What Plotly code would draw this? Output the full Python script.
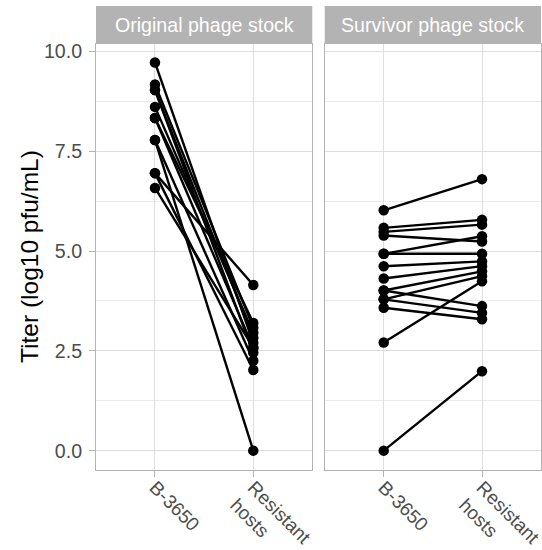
import plotly.graph_objects as go
from plotly.subplots import make_subplots

categories = ["B-3650", "Resistant hosts"]
tick_labels = ["B-3650", "Resistant<br>hosts"]
panel_titles = ["Original phage stock", "Survivor phage stock"]

# Original phage stock: titer on B-3650 and on resistant hosts (paired)
orig_b3650 = [9.72, 9.17, 9.03, 9.03, 8.61, 8.33, 8.33, 7.78, 7.78, 6.95, 6.95, 6.58]
orig_resist = [2.70, 3.08, 2.83, 2.45, 2.95, 3.20, 2.58, 0.00, 2.25, 4.15, 2.02, 2.58]

# Survivor phage stock
surv_b3650 = [6.02, 5.58, 5.48, 5.39, 4.93, 4.93, 4.62, 4.31, 4.01, 4.01, 3.79, 3.79, 3.58, 2.71, 0.00]
surv_resist = [6.80, 5.78, 5.66, 5.24, 5.37, 4.93, 4.74, 4.62, 4.49, 3.62, 4.37, 3.45, 3.29, 4.24, 1.99]

y_tickvals = [0, 2.5, 5, 7.5, 10]
y_ticktext = ["0.0", "2.5", "5.0", "7.5", "10.0"]

W, H = 542, 550
ML, MR, MT, MB = 96, 1, 44, 80

fig = make_subplots(rows=1, cols=2, shared_yaxes=True, horizontal_spacing=0.028)

for col, (starts, ends) in enumerate([(orig_b3650, orig_resist), (surv_b3650, surv_resist)], start=1):
    for s, e in zip(starts, ends):
        fig.add_trace(go.Scatter(
            x=categories, y=[s, e], mode="lines+markers",
            line=dict(color="black", width=2.4),
            marker=dict(color="black", size=10.5),
            showlegend=False, hoverinfo="skip"), row=1, col=col)

grey70 = "#B3B3B3"
grey87 = "#DEDEDE"
font = "Liberation Sans, Arial, sans-serif"

for i in (1, 2):
    fig.update_xaxes(
        type="category", categoryorder="array", categoryarray=categories,
        range=[-0.6, 1.6], tickvals=categories, ticktext=tick_labels,
        tickangle=45, ticks="outside", ticklen=6, tickcolor=grey70, tickwidth=1,
        ticklabelstandoff=-8,
        tickfont=dict(family=font, size=19, color="#4D4D4D"),
        showgrid=True, gridcolor=grey87, gridwidth=1,
        showline=True, linecolor=grey70, linewidth=1, mirror=True,
        zeroline=False, automargin=False, row=1, col=i)
    fig.update_yaxes(
        range=[-0.485, 10.185], tickvals=y_tickvals, ticktext=y_ticktext,
        ticks="outside" if i == 1 else "", ticklen=6, tickcolor=grey70, tickwidth=1,
        ticklabelstandoff=3,
        tickfont=dict(family=font, size=19.6, color="#4D4D4D"),
        showgrid=True, gridcolor=grey87, gridwidth=1,
        minor=dict(tickvals=[1.25, 3.75, 6.25, 8.75], showgrid=True, gridcolor="#EBEBEB", gridwidth=0.6, ticks=""),
        showline=True, linecolor=grey70, linewidth=1, mirror=True,
        zeroline=False, automargin=False, row=1, col=i)

plot_w = W - ML - MR
plot_h = H - MT - MB

# y-axis title
fig.add_annotation(xref="paper", yref="paper", x=(29 - ML) / plot_w, y=0.5,
                   text="Titer (log10 pfu/mL)", textangle=-90, showarrow=False,
                   xanchor="center", yanchor="middle",
                   font=dict(family=font, size=24.5, color="black"))

# facet strips
strip_top = 1 + (MT - 6) / plot_h
for i, title in enumerate(panel_titles):
    xref = "x domain" if i == 0 else "x2 domain"
    fig.add_shape(type="rect", xref=xref, yref="paper", x0=0, x1=1, y0=1.0, y1=strip_top,
                  fillcolor=grey70, line=dict(width=0), layer="below")
    fig.add_annotation(xref=xref, yref="paper", x=0.5, y=(1 + strip_top) / 2,
                       text=title, showarrow=False, xanchor="center", yanchor="middle",
                       font=dict(family=font, size=19.6, color="white"))

fig.update_layout(
    width=W, height=H,
    margin=dict(l=ML, r=MR, t=MT, b=MB, autoexpand=False),
    plot_bgcolor="white", paper_bgcolor="white",
    font=dict(family=font),
)

fig.write_html("out.html", config={"displayModeBar": False},
               post_script="document.body.style.margin='0';document.body.style.overflow='hidden';")
